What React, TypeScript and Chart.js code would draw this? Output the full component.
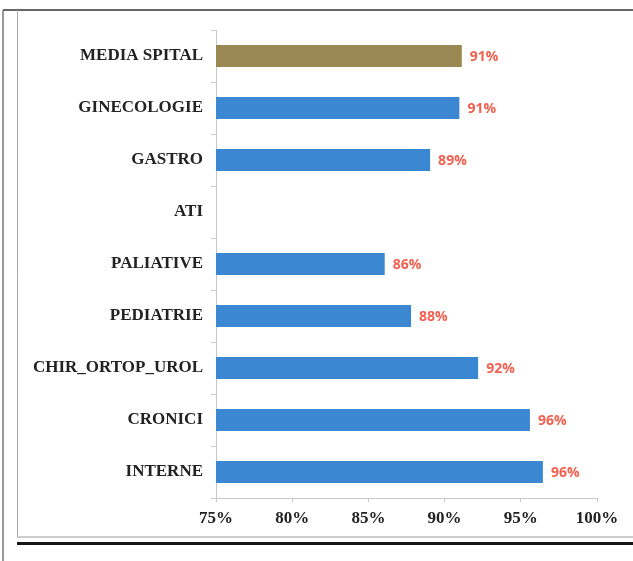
import React, { useEffect, useRef } from "react";
import { Chart, registerables } from "chart.js";

Chart.register(...registerables);

const categories = [
  "MEDIA SPITAL",
  "GINECOLOGIE",
  "GASTRO",
  "ATI",
  "PALIATIVE",
  "PEDIATRIE",
  "CHIR_ORTOP_UROL",
  "CRONICI",
  "INTERNE",
];
const values: (number | null)[] = [91.13, 90.97, 89.05, null, 86.07, 87.8, 92.2, 95.6, 96.45];
const barColors = [
  "#9a8853",
  "#3c87d1",
  "#3c87d1",
  "#3c87d1",
  "#3c87d1",
  "#3c87d1",
  "#3c87d1",
  "#3c87d1",
  "#3c87d1",
];
const xTicks = [75, 80, 85, 90, 95, 100];

const framePlugin = {
  id: "frame",
  beforeDraw(chart: any) {
    const ctx = chart.ctx;
    const W = chart.width;
    const H = chart.height;
    ctx.save();
    ctx.fillStyle = "#ffffff";
    ctx.fillRect(0, 0, W, H);
    const line = (x1: number, y1: number, x2: number, y2: number, c: string, w: number) => {
      ctx.beginPath();
      ctx.strokeStyle = c;
      ctx.lineWidth = w;
      ctx.moveTo(x1, y1);
      ctx.lineTo(x2, y2);
      ctx.stroke();
    };
    line(3, 10, 3, H, "#777777", 1.5);
    line(3, 10, W, 10, "#666666", 2);
    line(17.5, 10, 17.5, 537, "#aaaaaa", 1);
    line(17, 537, W, 537, "#bbbbbb", 1.5);
    line(17, 543.5, W, 543.5, "#151515", 3);
    ctx.restore();
  },
};

const labelPlugin = {
  id: "barLabels",
  afterDatasetsDraw(chart: any) {
    const ctx = chart.ctx;
    const meta = chart.getDatasetMeta(0);
    const data = chart.data.datasets[0].data;
    ctx.save();
    ctx.font = "bold 14px 'Open Sans', 'Liberation Sans', sans-serif";
    ctx.fillStyle = "#f2604f";
    ctx.textAlign = "left";
    ctx.textBaseline = "middle";
    meta.data.forEach((el: any, i: number) => {
      const v = data[i];
      if (v === null || v === undefined) return;
      ctx.fillText(Math.round(v) + "%", el.x + 8, el.y + 1);
    });
    ctx.restore();
  },
};

export default function App() {
  const ref = useRef<HTMLCanvasElement | null>(null);
  useEffect(() => {
    if (!ref.current) return;
    const chart = new Chart(ref.current, {
      type: "bar",
      data: {
        labels: categories,
        datasets: [
          {
            data: values as any,
            backgroundColor: barColors,
            borderWidth: 0,
            categoryPercentage: 1,
            barPercentage: 0.42,
          },
        ],
      },
      options: {
        indexAxis: "y",
        animation: false,
        responsive: false,
        layout: { padding: { left: 0, right: 36, top: 30, bottom: 23 } },
        plugins: { legend: { display: false }, tooltip: { enabled: false } },
        scales: {
          x: {
            min: 75,
            max: 100,
            afterBuildTicks: (s: any) => {
              s.ticks = xTicks.map((v) => ({ value: v }));
            },
            afterFit: (s: any) => {
              s.height = 40;
            },
            ticks: {
              callback: (v: any) => v + "%",
              color: "#222222",
              padding: 6,
              font: { family: "'Liberation Serif', 'Times New Roman', serif", size: 17, weight: "bold" },
            },
            grid: { drawOnChartArea: false, drawTicks: true, tickLength: 4, color: "#c8c8c8" },
            border: { display: true, color: "#c8c8c8" },
          },
          y: {
            afterFit: (s: any) => {
              s.width = 216;
            },
            ticks: {
              color: "#222222",
              padding: 8,
              font: { family: "'Liberation Serif', 'Times New Roman', serif", size: 17, weight: "bold" },
            },
            grid: { drawOnChartArea: false, drawTicks: true, tickLength: 5, color: "#c8c8c8" },
            border: { display: true, color: "#c8c8c8" },
          },
        },
      },
      plugins: [framePlugin, labelPlugin],
    });
    return () => chart.destroy();
  }, []);
  return (
    <div style={{ position: "absolute", left: 0, top: 0, width: 633, height: 561, background: "#fff" }}>
      <canvas ref={ref} width={633} height={561} style={{ display: "block" }} />
    </div>
  );
}
